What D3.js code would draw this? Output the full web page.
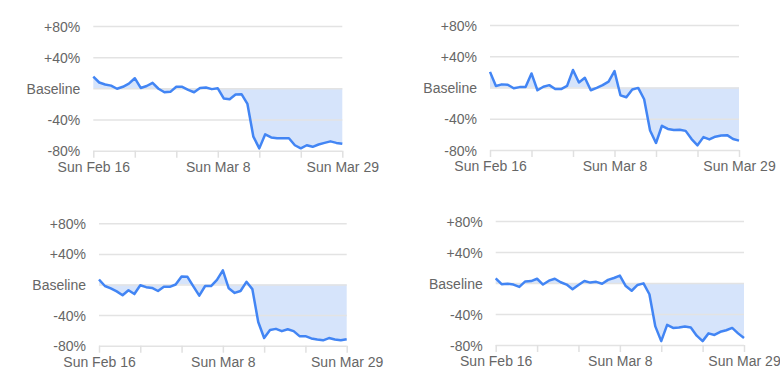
<!DOCTYPE html>
<html>
<head>
<meta charset="utf-8">
<script src="https://cdn.jsdelivr.net/npm/d3@7"></script>
<style>
  html, body { margin: 0; padding: 0; background: #fff; }
  svg { display: block; }
  .tick text { font-family: "Liberation Sans", Arial, sans-serif; font-size: 14px; fill: #666; }
</style>
</head>
<body>
<script>
// daily values, Sun Feb 16 .. Sun Mar 29 2020 (percent change from baseline)
const startDate = new Date(2020, 1, 16);
const endDate = new Date(2020, 2, 29);

const series1 = [15, 7.5, 5, 3.5, -0.5, 2, 6, 13, 0.5, 3, 7, -0.5, -5, -4.5, 2, 2, -2, -5, 0.5, 1, -1,
  0, -13, -14, -8, -7.5, -20, -62, -77, -59, -63, -64, -64, -64, -73, -77, -73, -75, -72, -70, -68, -70, -71];
const series2 = [20, 2, 4, 3.5, -1, 0.5, 0.5, 18, -3.5, 1, 3, -2, -2, 2, 22.5, 6.5, 12.5, -3.5, -0.5, 3, 7.5,
  21, -10, -12.5, -2.5, -0.5, -15, -55, -71, -49, -53, -54.5, -54, -55.5, -66, -74, -63.5, -66.5, -63, -61.5, -61, -66, -68];
const series3 = [6.5, -2, -5, -9, -14, -7.5, -12.5, -1, -3.5, -4.5, -8.5, -3, -3, 0, 10.5, 10, -2.5, -14.5, -2, -2, 6,
  18.5, -5, -11, -8.5, 3.5, -6, -49, -70, -59.5, -58, -61, -58.5, -61, -67.5, -67.5, -70.5, -72, -73, -70, -72, -73, -71.5];
const series4 = [6, -1.5, -1, -2, -5, 2, 2.5, 5.5, -2, 3, 5.5, 1, -2, -8, -2.5, 2.5, 0.5, 1.5, -1, 4, 6.5,
  9.5, -4, -10, -2.5, -0.5, -14.5, -56, -75, -54, -58, -57.5, -56, -57.5, -68, -75, -65, -67, -63, -61, -58, -65, -71];

const yTicks = [-80, -40, 0, 40, 80];
const yTickLabels = ["-80%", "-40%", "Baseline", "+40%", "+80%"];
const labelledDates = ["Sun Feb 16", "Sun Mar 8", "Sun Mar 29"];

// plot boxes of the four small charts
const panels = [
  { values: series1, x0: 93.3, x1: 342.3, yTop: 26, yBottom: 150.7 },
  { values: series2, x0: 490, x1: 739, yTop: 25, yBottom: 150 },
  { values: series3, x0: 99, x1: 346.7, yTop: 223.3, yBottom: 345.7 },
  { values: series4, x0: 495.7, x1: 744, yTop: 221, yBottom: 345 }
];

const width = 780, height = 390;
const days = d3.timeDay.range(startDate, d3.timeDay.offset(endDate, 1));
const weeks = d3.timeWeek.range(startDate, d3.timeDay.offset(endDate, 1));
const fmt = d3.timeFormat("%a %b %-d");

const svg = d3.select("body").append("svg")
  .attr("width", width)
  .attr("height", height);

panels.forEach(p => {
  const data = days.map((d, i) => ({ date: d, value: p.values[i] }));

  const x = d3.scaleTime().domain([startDate, endDate]).range([p.x0, p.x1]);
  const y = d3.scaleLinear().domain([-80, 80]).range([p.yBottom, p.yTop]);

  const g = svg.append("g");

  // shaded area between line and baseline
  g.append("path")
    .datum(data)
    .attr("fill", "#d6e4fb")
    .attr("d", d3.area()
      .x(d => x(d.date))
      .y0(y(0))
      .y1(d => y(d.value)));

  // y axis with gridlines
  const yAxis = g.append("g")
    .attr("transform", `translate(${p.x0},0)`)
    .call(d3.axisLeft(y)
      .tickValues(yTicks)
      .tickSize(-(p.x1 - p.x0))
      .tickPadding(13)
      .tickFormat((d, i) => yTickLabels[i]));
  yAxis.select(".domain").remove();
  yAxis.selectAll(".tick line")
    .attr("stroke", "#e3e3e3")
    .attr("stroke-width", 1.5);
  yAxis.selectAll(".tick text").attr("dy", "0.36em");

  // x axis with weekly ticks
  const xAxis = g.append("g")
    .attr("transform", `translate(0,${p.yBottom})`)
    .call(d3.axisBottom(x)
      .tickValues(weeks)
      .tickSize(7)
      .tickPadding(4)
      .tickFormat(d => labelledDates.includes(fmt(d)) ? fmt(d) : ""));
  xAxis.select(".domain").remove();
  xAxis.selectAll(".tick line")
    .attr("stroke", "#e0e0e0")
    .attr("stroke-width", 1.5);

  // the series line
  g.append("path")
    .datum(data)
    .attr("fill", "none")
    .attr("stroke", "#4285f4")
    .attr("stroke-width", 2.5)
    .attr("stroke-linejoin", "round")
    .attr("d", d3.line()
      .x(d => x(d.date))
      .y(d => y(d.value)));
});
</script>
</body>
</html>
